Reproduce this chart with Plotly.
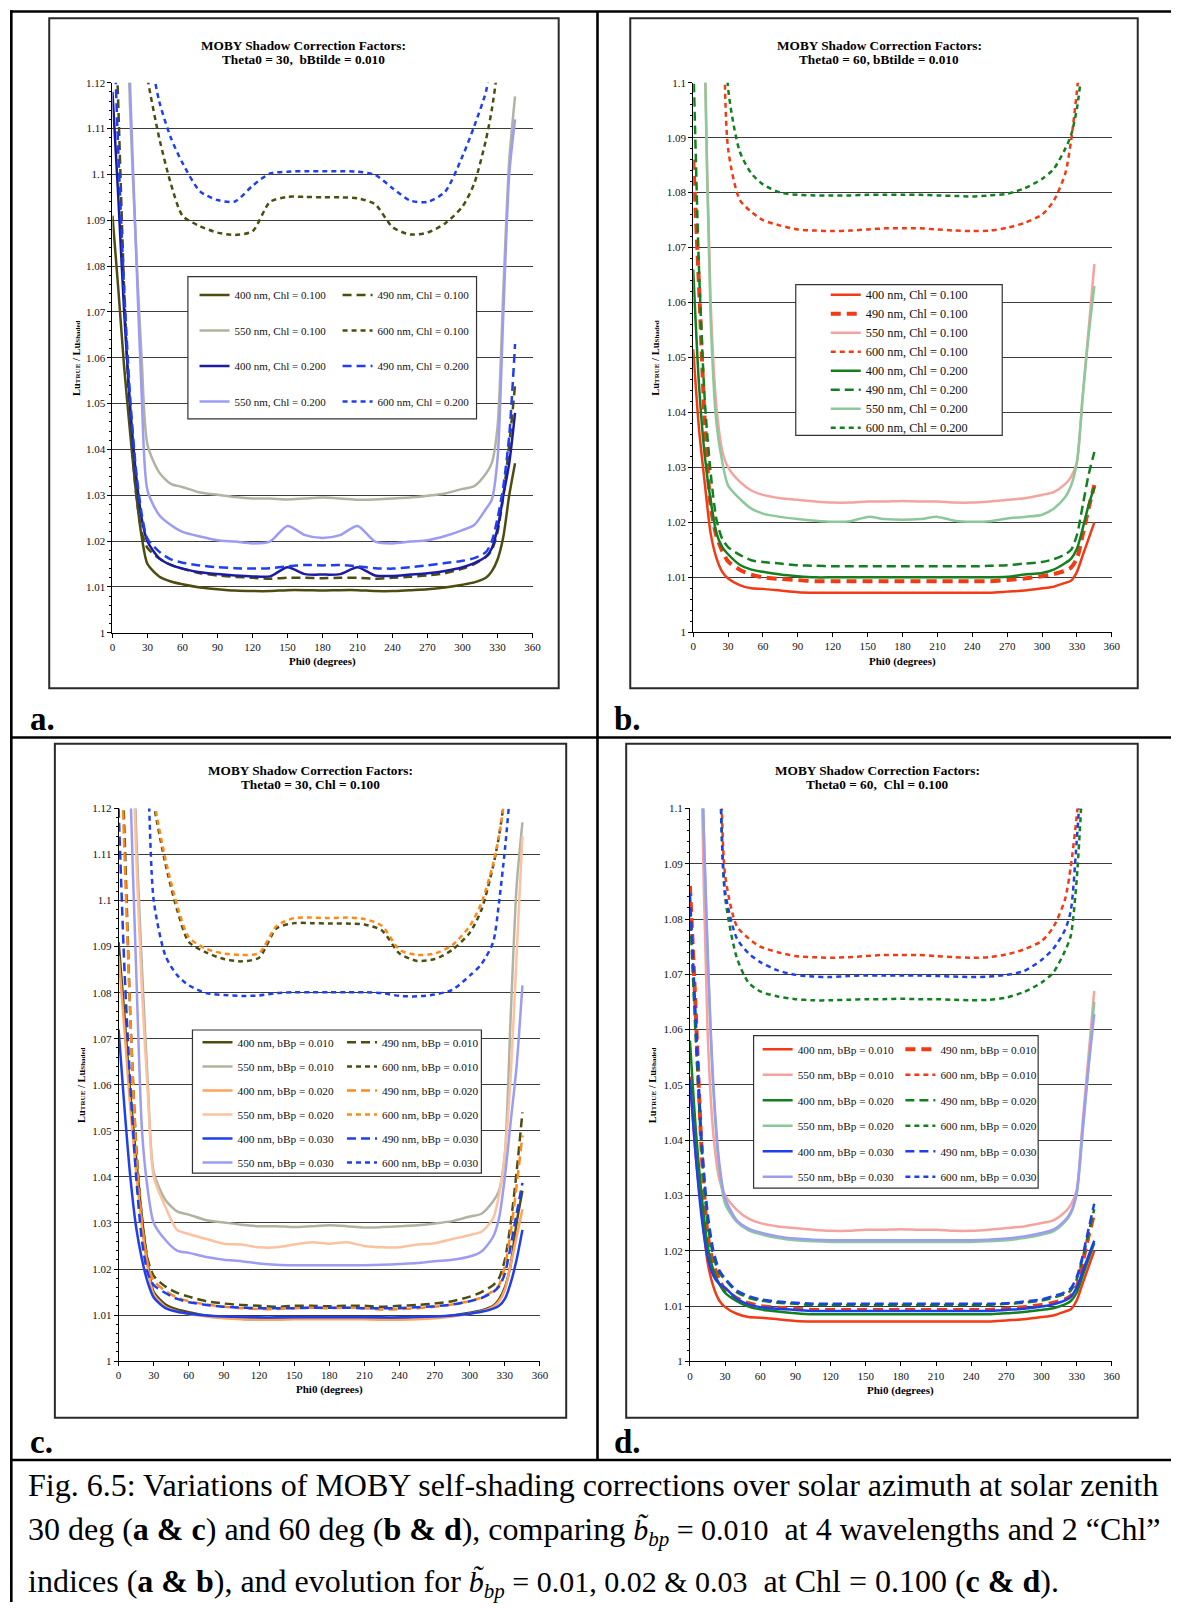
import plotly.graph_objects as go

SERIF = "Liberation Serif"
W, H = 1180, 1608

# ---------------- data ----------------
PHI = [0, 5, 10, 15, 20, 25, 30, 40, 50, 60, 75, 90, 105, 120, 135, 150, 165,
       180, 195, 210, 225, 240, 255, 270, 285, 300, 310, 320, 325, 330, 335, 340, 345]

X_TICKS = [0, 30, 60, 90, 120, 150, 180, 210, 240, 270, 300, 330, 360]
X_TICK_LABELS = ["0", "30", "60", "90", "120", "150", "180", "210", "240", "270", "300", "330", "360"]
Y_TICKS_12 = [1.00, 1.01, 1.02, 1.03, 1.04, 1.05, 1.06, 1.07, 1.08, 1.09, 1.10, 1.11, 1.12]
Y_LABELS_12 = ["1", "1.01", "1.02", "1.03", "1.04", "1.05", "1.06", "1.07", "1.08", "1.09", "1.1", "1.11", "1.12"]
Y_TICKS_10 = [1.00, 1.01, 1.02, 1.03, 1.04, 1.05, 1.06, 1.07, 1.08, 1.09, 1.10]
Y_LABELS_10 = ["1", "1.01", "1.02", "1.03", "1.04", "1.05", "1.06", "1.07", "1.08", "1.09", "1.1"]

# Theta0 = 30, Chl = 0.100, bBp = 0.010  (panels a and c)
T30_400_C1 = [1.091, 1.075, 1.058, 1.044, 1.031, 1.021, 1.015, 1.0123, 1.0112, 1.0106, 1.0099, 1.0095, 1.0092,
              1.0091, 1.0091, 1.0093, 1.0093, 1.0092, 1.0093, 1.0093, 1.0091, 1.0091, 1.0093, 1.0095, 1.0099,
              1.0105, 1.011, 1.012, 1.0134, 1.016, 1.021, 1.03, 1.037]
T30_490_C1 = [1.15, 1.115, 1.075, 1.047, 1.031, 1.022, 1.0185, 1.0162, 1.0148, 1.014, 1.013, 1.0125, 1.0122,
              1.012, 1.0118, 1.012, 1.012, 1.0119, 1.012, 1.012, 1.0118, 1.012, 1.0122, 1.0125, 1.013,
              1.014, 1.015, 1.0165, 1.018, 1.022, 1.03, 1.041, 1.054]
T30_550_C1 = [1.28, 1.22, 1.16, 1.115, 1.085, 1.06, 1.041, 1.035, 1.0325, 1.0318, 1.0306, 1.0301, 1.0296,
              1.0293, 1.0293, 1.0291, 1.0293, 1.0295, 1.0293, 1.029, 1.0291, 1.0293, 1.0295, 1.0299, 1.0304,
              1.0314, 1.032, 1.0347, 1.037, 1.045, 1.075, 1.103, 1.117]
T30_600_C1 = [1.25, 1.21, 1.18, 1.16, 1.145, 1.13, 1.121, 1.108, 1.098, 1.091, 1.0887, 1.0873, 1.0868,
              1.0876, 1.094, 1.0951, 1.0951, 1.095, 1.095, 1.0948, 1.0935, 1.0885, 1.0869, 1.0873, 1.0893,
              1.093, 1.098, 1.1075, 1.114, 1.123, 1.135, 1.15, 1.17]
# Theta0 = 30, Chl = 0.200
T30_400_C2 = [1.118, 1.095, 1.07, 1.05, 1.035, 1.025, 1.0199, 1.0163, 1.0148, 1.014, 1.0132, 1.0128, 1.0125,
              1.0123, 1.0123, 1.0143, 1.0128, 1.0127, 1.0128, 1.0143, 1.0125, 1.0124, 1.0127, 1.013, 1.0135,
              1.0143, 1.0152, 1.0166, 1.0184, 1.0228, 1.03, 1.037, 1.048]
T30_490_C2 = [1.14, 1.105, 1.075, 1.052, 1.036, 1.026, 1.0205, 1.0177, 1.016, 1.0153, 1.0147, 1.0143, 1.0141,
              1.014, 1.0141, 1.0145, 1.0148, 1.0147, 1.0148, 1.0145, 1.0141, 1.014, 1.0143, 1.0147, 1.0152,
              1.0157, 1.0163, 1.0176, 1.0199, 1.025, 1.032, 1.043, 1.063]
T30_550_C2 = [1.30, 1.24, 1.17, 1.12, 1.085, 1.052, 1.031, 1.0257, 1.0235, 1.022, 1.021, 1.0202, 1.0199,
              1.0195, 1.0199, 1.0233, 1.0213, 1.0207, 1.0213, 1.0233, 1.0199, 1.0195, 1.0199, 1.0202, 1.0211,
              1.0224, 1.0235, 1.027, 1.029, 1.038, 1.07, 1.10, 1.112]
T30_600_C2 = [1.3, 1.25, 1.21, 1.18, 1.16, 1.145, 1.13, 1.116, 1.108, 1.1025, 1.0963, 1.0944, 1.0941,
              1.0975, 1.1002, 1.1006, 1.1007, 1.1007, 1.1007, 1.1006, 1.0999, 1.097, 1.0943, 1.094, 1.0962,
              1.104, 1.1105, 1.118, 1.125, 1.133, 1.145, 1.16, 1.18]
# Theta0 = 30, Chl = 0.100, bBp = 0.020 / 0.030
T30_400_B2 = [1.088, 1.072, 1.055, 1.041, 1.029, 1.02, 1.0145, 1.0118, 1.0108, 1.0102, 1.0097, 1.0093, 1.0091,
              1.009, 1.009, 1.0091, 1.0091, 1.0091, 1.0091, 1.0091, 1.009, 1.009, 1.0091, 1.0093, 1.0097,
              1.0103, 1.0108, 1.0118, 1.013, 1.0155, 1.021, 1.027, 1.033]
T30_490_B2 = [1.15, 1.11, 1.075, 1.046, 1.03, 1.021, 1.0175, 1.0152, 1.0138, 1.013, 1.0123, 1.0118, 1.0115,
              1.0113, 1.0113, 1.0115, 1.0116, 1.0115, 1.0116, 1.0115, 1.0112, 1.0113, 1.0115, 1.0118, 1.0123,
              1.013, 1.0138, 1.0152, 1.0165, 1.0205, 1.028, 1.038, 1.049]
T30_550_B2 = [1.3, 1.22, 1.15, 1.11, 1.08, 1.058, 1.04, 1.0335, 1.0285, 1.0276, 1.0265, 1.0255, 1.0253,
              1.0247, 1.0247, 1.0253, 1.0258, 1.0255, 1.0258, 1.025, 1.0247, 1.0247, 1.0253, 1.0256, 1.0265,
              1.0274, 1.0281, 1.031, 1.036, 1.045, 1.062, 1.088, 1.114]
T30_600_B2 = [1.25, 1.21, 1.18, 1.16, 1.145, 1.13, 1.122, 1.109, 1.099, 1.092, 1.0895, 1.0885, 1.0882,
              1.0886, 1.0945, 1.0962, 1.0963, 1.0962, 1.0963, 1.096, 1.0945, 1.0893, 1.0882, 1.0885, 1.0903,
              1.0945, 1.0995, 1.108, 1.114, 1.123, 1.135, 1.15, 1.17]
T30_400_B3 = [1.072, 1.055, 1.04, 1.029, 1.022, 1.017, 1.0138, 1.0115, 1.0107, 1.0103, 1.0099, 1.0097, 1.0096,
              1.0095, 1.0095, 1.0095, 1.0095, 1.0095, 1.0095, 1.0095, 1.0095, 1.0095, 1.0096, 1.0097, 1.0099,
              1.0103, 1.0107, 1.0114, 1.012, 1.0135, 1.017, 1.022, 1.0285]
T30_490_B3 = [1.12, 1.085, 1.06, 1.04, 1.026, 1.019, 1.0165, 1.0148, 1.0135, 1.0128, 1.0122, 1.0118, 1.0116,
              1.0115, 1.0115, 1.0115, 1.0116, 1.0116, 1.0116, 1.0115, 1.0115, 1.0115, 1.0117, 1.0119, 1.0123,
              1.013, 1.0137, 1.015, 1.0162, 1.019, 1.025, 1.032, 1.0387]
T30_550_B3 = [1.3, 1.2, 1.125, 1.085, 1.05, 1.037, 1.03, 1.0263, 1.024, 1.0235, 1.0226, 1.022, 1.0217,
              1.0212, 1.0209, 1.0208, 1.0208, 1.0208, 1.0208, 1.0208, 1.0209, 1.0211, 1.0213, 1.0217, 1.022,
              1.0227, 1.0238, 1.027, 1.031, 1.04, 1.052, 1.064, 1.0816]
T30_600_B3 = [1.3, 1.25, 1.2, 1.17, 1.15, 1.128, 1.1, 1.088, 1.0838, 1.0816, 1.0799, 1.0795, 1.0793,
              1.0794, 1.0799, 1.0801, 1.0801, 1.0801, 1.0801, 1.0801, 1.0799, 1.0793, 1.0792, 1.0796, 1.0806,
              1.0837, 1.0862, 1.091, 1.0996, 1.111, 1.125, 1.14, 1.16]

# Theta0 = 60, Chl = 0.100, bBp = 0.010 (panels b and d)
T60_400_C1 = [1.0515, 1.037, 1.027, 1.018, 1.0135, 1.011, 1.0098, 1.0086, 1.008, 1.0079, 1.0076, 1.0073, 1.0072,
              1.0072, 1.0072, 1.0072, 1.0072, 1.0072, 1.0072, 1.0072, 1.0072, 1.0072, 1.0072, 1.0074, 1.0076,
              1.008, 1.0083, 1.009, 1.0094, 1.011, 1.014, 1.017, 1.02]
T60_490_C1 = [1.086, 1.063, 1.038, 1.023, 1.0175, 1.0148, 1.0129, 1.0114, 1.0105, 1.01, 1.0097, 1.0095, 1.0093,
              1.0093, 1.0093, 1.0093, 1.0093, 1.0093, 1.0093, 1.0093, 1.0093, 1.0093, 1.0093, 1.0095, 1.0098,
              1.0102, 1.0106, 1.0112, 1.0118, 1.0134, 1.0178, 1.0225, 1.0268]
T60_550_C1 = [1.25, 1.18, 1.105, 1.06, 1.041, 1.033, 1.03, 1.0274, 1.0258, 1.025, 1.0244, 1.0241, 1.0238,
              1.0236, 1.0236, 1.0238, 1.0238, 1.0239, 1.0238, 1.0238, 1.0236, 1.0236, 1.0238, 1.0241, 1.0244,
              1.025, 1.0255, 1.027, 1.0283, 1.031, 1.043, 1.055, 1.067]
T60_600_C1 = [1.26, 1.23, 1.2, 1.18, 1.165, 1.127, 1.088, 1.0787, 1.0765, 1.075, 1.074, 1.0733, 1.0731,
              1.073, 1.0731, 1.0733, 1.0735, 1.0735, 1.0735, 1.0733, 1.0731, 1.073, 1.0731, 1.0736, 1.0745,
              1.076, 1.0785, 1.0835, 1.0895, 1.0985, 1.11, 1.13, 1.15]
# Theta0 = 60, Chl = 0.200
T60_400_C2 = [1.066, 1.045, 1.032, 1.024, 1.018, 1.0155, 1.0142, 1.0123, 1.0114, 1.011, 1.0105, 1.0102, 1.01,
              1.01, 1.01, 1.01, 1.01, 1.01, 1.01, 1.01, 1.01, 1.01, 1.01, 1.0101, 1.0105,
              1.0108, 1.0114, 1.0126, 1.0134, 1.0152, 1.0189, 1.0231, 1.0264]
T60_490_C2 = [1.105, 1.066, 1.042, 1.029, 1.0205, 1.017, 1.0155, 1.0141, 1.0131, 1.0128, 1.0125, 1.0122, 1.0121,
              1.012, 1.012, 1.012, 1.012, 1.012, 1.012, 1.012, 1.012, 1.012, 1.0121, 1.0122, 1.0125,
              1.0128, 1.0133, 1.0142, 1.015, 1.0177, 1.0231, 1.0286, 1.0328]
T60_550_C2 = [1.25, 1.18, 1.105, 1.057, 1.038, 1.031, 1.0267, 1.0243, 1.0225, 1.0216, 1.021, 1.0206, 1.0203,
              1.0201, 1.0202, 1.021, 1.0206, 1.0205, 1.0206, 1.021, 1.0203, 1.0201, 1.0202, 1.0207, 1.021,
              1.0214, 1.0225, 1.0246, 1.0267, 1.031, 1.043, 1.054, 1.063]
T60_600_C2 = [1.3, 1.26, 1.22, 1.19, 1.165, 1.132, 1.099, 1.0875, 1.0835, 1.0815, 1.08, 1.0796, 1.0795,
              1.0795, 1.0795, 1.0796, 1.0796, 1.0796, 1.0796, 1.0795, 1.0794, 1.0793, 1.0795, 1.0798, 1.0808,
              1.0825, 1.0843, 1.088, 1.0905, 1.0953, 1.104, 1.12, 1.14]
# Theta0 = 60, Chl = 0.100, bBp = 0.020 / 0.030
T60_400_B2 = [1.058, 1.042, 1.03, 1.021, 1.0165, 1.014, 1.0124, 1.0109, 1.0099, 1.0094, 1.009, 1.0087, 1.0085,
              1.0085, 1.0085, 1.0085, 1.0085, 1.0085, 1.0085, 1.0085, 1.0085, 1.0085, 1.0085, 1.0087, 1.0089,
              1.0093, 1.0096, 1.0103, 1.0109, 1.0124, 1.0154, 1.0184, 1.0214]
T60_490_B2 = [1.082, 1.058, 1.038, 1.025, 1.019, 1.016, 1.0148, 1.0125, 1.0115, 1.011, 1.0106, 1.0104, 1.0102,
              1.0102, 1.0102, 1.0102, 1.0102, 1.0102, 1.0102, 1.0102, 1.0102, 1.0102, 1.0102, 1.0104, 1.0106,
              1.011, 1.0115, 1.0122, 1.0128, 1.0148, 1.0185, 1.023, 1.0275]
T60_550_B2 = [1.25, 1.17, 1.11, 1.074, 1.049, 1.035, 1.0285, 1.0252, 1.0237, 1.023, 1.0223, 1.0219, 1.0217,
              1.0216, 1.0216, 1.0216, 1.0216, 1.0216, 1.0216, 1.0216, 1.0216, 1.0216, 1.0217, 1.0219, 1.0223,
              1.0229, 1.0235, 1.0252, 1.0267, 1.0302, 1.041, 1.053, 1.065]
T60_600_B2 = [1.3, 1.26, 1.22, 1.18, 1.15, 1.112, 1.084, 1.073, 1.0685, 1.0669, 1.066, 1.0655, 1.0653,
              1.0653, 1.0654, 1.0655, 1.0655, 1.0656, 1.0655, 1.0655, 1.0654, 1.0653, 1.0654, 1.0658, 1.0668,
              1.0685, 1.0703, 1.0742, 1.077, 1.087, 1.105, 1.13, 1.15]
T60_400_B3 = [1.051, 1.037, 1.026, 1.019, 1.0155, 1.014, 1.0133, 1.0113, 1.0103, 1.0098, 1.0095, 1.0093, 1.0091,
              1.0091, 1.0091, 1.0091, 1.0091, 1.0091, 1.0091, 1.0091, 1.0091, 1.0091, 1.0091, 1.0093, 1.0095,
              1.0099, 1.0103, 1.011, 1.0117, 1.0133, 1.0162, 1.019, 1.0218]
T60_490_B3 = [1.0847, 1.062, 1.04, 1.027, 1.02, 1.0165, 1.015, 1.0128, 1.0118, 1.0112, 1.0108, 1.0106, 1.0104,
              1.0104, 1.0104, 1.0104, 1.0104, 1.0104, 1.0104, 1.0104, 1.0104, 1.0104, 1.0104, 1.0105, 1.0108,
              1.0112, 1.0118, 1.0125, 1.0132, 1.0152, 1.019, 1.0238, 1.0285]
T60_550_B3 = [1.25, 1.17, 1.11, 1.075, 1.05, 1.036, 1.0295, 1.0255, 1.024, 1.0233, 1.0226, 1.0222, 1.022,
              1.0219, 1.0219, 1.0219, 1.0219, 1.0219, 1.0219, 1.0219, 1.0219, 1.0219, 1.022, 1.0222, 1.0226,
              1.0232, 1.0238, 1.0255, 1.027, 1.0305, 1.042, 1.053, 1.0628]
T60_600_B3 = [1.3, 1.26, 1.22, 1.18, 1.15, 1.113, 1.085, 1.0765, 1.0738, 1.0722, 1.0707, 1.0699, 1.0696,
              1.0695, 1.0697, 1.0698, 1.0698, 1.0698, 1.0698, 1.0697, 1.0696, 1.0695, 1.0696, 1.0699, 1.0706,
              1.0726, 1.0746, 1.078, 1.0815, 1.094, 1.11, 1.13, 1.15]

# ---------------- styles ----------------
OLIVE = "#4D4D10"
GRAY = "#B2B2A2"
NAVY = "#1C1CA3"
BLUE = "#1F3FEF"
LAV = "#9C9CF2"
RED = "#F23A14"
PINK = "#F5A3A0"
GREEN = "#12801F"
LGREEN = "#8CC89A"
ORANGE = "#FF8A1A"
ORANGE_L = "#FFA45C"
PEACH = "#FBC2A0"
LONG = "9px,5px"
SHORT = "5px,4px"
LW = 2.5


def px_x(v):
    return v / W


def px_y(v):
    return 1 - v / H


fig = go.Figure()

# panel geometry (pixels)
PANELS = {
    "a": dict(ax="", x0=110.6, x1=535.0, top=77.3, bot=631.5, yt=Y_TICKS_12, yl=Y_LABELS_12, ymax=1.12),
    "b": dict(ax="2", x0=697.3, x1=1120.2, top=77.3, bot=631.0, yt=Y_TICKS_10, yl=Y_LABELS_10, ymax=1.10),
    "c": dict(ax="3", x0=116.8, x1=542.5, top=808.5, bot=1365.3, yt=Y_TICKS_12, yl=Y_LABELS_12, ymax=1.12),
    "d": dict(ax="4", x0=694.0, x1=1120.2, top=808.5, bot=1365.5, yt=Y_TICKS_10, yl=Y_LABELS_10, ymax=1.10),
}

SERIES = [
    # panel, legend, name, y, color, width, dash
    ("a", "legend", "400 nm, Chl = 0.100", T30_400_C1, OLIVE, LW, "solid"),
    ("a", "legend2", "490 nm, Chl = 0.100", T30_490_C1, OLIVE, LW, LONG),
    ("a", "legend", "550 nm, Chl = 0.100", T30_550_C1, GRAY, LW, "solid"),
    ("a", "legend2", "600 nm, Chl = 0.100", T30_600_C1, OLIVE, LW, SHORT),
    ("a", "legend", "400 nm, Chl = 0.200", T30_400_C2, NAVY, LW, "solid"),
    ("a", "legend2", "490 nm, Chl = 0.200", T30_490_C2, BLUE, LW, LONG),
    ("a", "legend", "550 nm, Chl = 0.200", T30_550_C2, LAV, LW, "solid"),
    ("a", "legend2", "600 nm, Chl = 0.200", T30_600_C2, BLUE, LW, SHORT),

    ("b", "legend3", "400 nm, Chl = 0.100", T60_400_C1, RED, LW, "solid"),
    ("b", "legend3", "490 nm, Chl = 0.100", T60_490_C1, RED, 4, "10px,6px"),
    ("b", "legend3", "550 nm, Chl = 0.100", T60_550_C1, PINK, LW, "solid"),
    ("b", "legend3", "600 nm, Chl = 0.100", T60_600_C1, RED, LW, SHORT),
    ("b", "legend3", "400 nm, Chl = 0.200", T60_400_C2, GREEN, LW, "solid"),
    ("b", "legend3", "490 nm, Chl = 0.200", T60_490_C2, GREEN, LW, LONG),
    ("b", "legend3", "550 nm, Chl = 0.200", T60_550_C2, LGREEN, LW, "solid"),
    ("b", "legend3", "600 nm, Chl = 0.200", T60_600_C2, GREEN, LW, SHORT),

    ("c", "legend4", "400 nm, bBp = 0.010", T30_400_C1, OLIVE, LW, "solid"),
    ("c", "legend5", "490 nm, bBp = 0.010", T30_490_C1, OLIVE, LW, LONG),
    ("c", "legend4", "550 nm, bBp = 0.010", T30_550_C1, GRAY, LW, "solid"),
    ("c", "legend5", "600 nm, bBp = 0.010", T30_600_C1, OLIVE, LW, SHORT),
    ("c", "legend4", "400 nm, bBp = 0.020", T30_400_B2, ORANGE_L, LW, "solid"),
    ("c", "legend5", "490 nm, bBp = 0.020", T30_490_B2, ORANGE, LW, LONG),
    ("c", "legend4", "550 nm, bBp = 0.020", T30_550_B2, PEACH, LW, "solid"),
    ("c", "legend5", "600 nm, bBp = 0.020", T30_600_B2, ORANGE, LW, SHORT),
    ("c", "legend4", "400 nm, bBp = 0.030", T30_400_B3, BLUE, LW, "solid"),
    ("c", "legend5", "490 nm, bBp = 0.030", T30_490_B3, BLUE, LW, LONG),
    ("c", "legend4", "550 nm, bBp = 0.030", T30_550_B3, LAV, LW, "solid"),
    ("c", "legend5", "600 nm, bBp = 0.030", T30_600_B3, BLUE, LW, SHORT),

    ("d", "legend6", "400 nm, bBp = 0.010", T60_400_C1, RED, LW, "solid"),
    ("d", "legend7", "490 nm, bBp = 0.010", T60_490_C1, RED, 4, "10px,6px"),
    ("d", "legend6", "550 nm, bBp = 0.010", T60_550_C1, PINK, LW, "solid"),
    ("d", "legend7", "600 nm, bBp = 0.010", T60_600_C1, RED, LW, SHORT),
    ("d", "legend6", "400 nm, bBp = 0.020", T60_400_B2, GREEN, LW, "solid"),
    ("d", "legend7", "490 nm, bBp = 0.020", T60_490_B2, GREEN, LW, LONG),
    ("d", "legend6", "550 nm, bBp = 0.020", T60_550_B2, LGREEN, LW, "solid"),
    ("d", "legend7", "600 nm, bBp = 0.020", T60_600_B2, GREEN, LW, SHORT),
    ("d", "legend6", "400 nm, bBp = 0.030", T60_400_B3, BLUE, LW, "solid"),
    ("d", "legend7", "490 nm, bBp = 0.030", T60_490_B3, BLUE, LW, LONG),
    ("d", "legend6", "550 nm, bBp = 0.030", T60_550_B3, LAV, LW, "solid"),
    ("d", "legend7", "600 nm, bBp = 0.030", T60_600_B3, BLUE, LW, SHORT),
]

for i, (pan, leg, name, ys, col, wid, dash) in enumerate(SERIES):
    a = PANELS[pan]["ax"]
    fig.add_trace(go.Scatter(
        x=PHI, y=ys, mode="lines", name=name,
        line=dict(color=col, width=wid, dash=dash, shape="spline", smoothing=0.7),
        xaxis="x" + a, yaxis="y" + a, legend=leg, legendgroup="g%d" % i,
        hoverinfo="skip",
    ))

# axes
tickfont = dict(family=SERIF, size=11, color="#111")
layout_axes = {}
for key, p in PANELS.items():
    a = p["ax"]
    layout_axes["xaxis" + a] = dict(
        domain=[px_x(p["x0"]), px_x(p["x1"])], range=[0, 360], anchor="y" + a,
        tickvals=X_TICKS, ticktext=X_TICK_LABELS, ticks="outside", ticklen=4, tickcolor="black",
        showline=True, linecolor="black", linewidth=1, showgrid=False, zeroline=False,
        tickfont=tickfont, fixedrange=True,
    )
    layout_axes["yaxis" + a] = dict(
        domain=[px_y(p["bot"]), px_y(p["top"])], range=[1.0, p["ymax"]], anchor="x" + a,
        tickvals=p["yt"], ticktext=p["yl"], ticks="outside", ticklen=4, tickcolor="black",
        showline=True, linecolor="black", linewidth=1, showgrid=True, gridcolor="#3c3c3c",
        gridwidth=1, zeroline=False, tickfont=tickfont, fixedrange=True,
        minor=dict(ticks="outside", ticklen=2, dtick=0.002, tickcolor="black", showgrid=False),
    )


# legends (one per column); item text starts 40 px right of the legend origin,
# the first item centre lies 14.5 px below it (19 px items)
def legend_at(text_x, first_row_y, size, pitch):
    return dict(x=px_x(text_x - 40), y=px_y(first_row_y - 14.5), xanchor="left", yanchor="top",
                bgcolor="rgba(0,0,0,0)", borderwidth=0, traceorder="grouped",
                tracegroupgap=max(pitch - 19, 0), font=dict(family=SERIF, size=size, color="#111"),
                itemclick=False, itemdoubleclick=False)


legends = {
    "legend": legend_at(233.5, 291.0, 11, 35.5),
    "legend2": legend_at(378.0, 291.0, 11, 35.5),
    "legend3": legend_at(871.2, 290.7, 12.3, 19.0),
    "legend4": legend_at(236.5, 1044.0, 11.3, 24.06),
    "legend5": legend_at(382.5, 1044.0, 11.3, 24.06),
    "legend6": legend_at(802.4, 1051.0, 11.3, 25.5),
    "legend7": legend_at(946.6, 1051.0, 11.3, 25.5),
}

# shapes
shapes = []


def hline(y, x0, x1, w):
    shapes.append(dict(type="line", xref="paper", yref="paper", x0=px_x(x0), x1=px_x(x1),
                       y0=px_y(y), y1=px_y(y), line=dict(color="black", width=w), layer="above"))


def vline(x, y0, y1, w):
    shapes.append(dict(type="line", xref="paper", yref="paper", x0=px_x(x), x1=px_x(x),
                       y0=px_y(y0), y1=px_y(y1), line=dict(color="black", width=w), layer="above"))


def rect(x0, y0, x1, y1, w, color, fill=None, layer="below"):
    d = dict(type="rect", xref="paper", yref="paper", x0=px_x(x0), x1=px_x(x1),
             y0=px_y(y1), y1=px_y(y0), line=dict(color=color, width=w), layer=layer)
    if fill:
        d["fillcolor"] = fill
    shapes.append(d)


# table rules
hline(5.5, 7.2, W, 2.6)
vline(8.4, 4.2, H, 2.6)
vline(600.6, 5.5, 1465, 2.6)
hline(737.0, 8.4, W, 2.6)
hline(1465.0, 8.4, W, 2.6)

# chart boxes
rect(46.7, 12.3, 561.4, 687.5, 2, "#2a2a2a")
rect(633.7, 12.3, 1146.4, 687.3, 2, "#2a2a2a")
rect(52.4, 743.3, 569.0, 1422.3, 2, "#2a2a2a")
rect(629.6, 743.3, 1146.4, 1422.3, 2, "#2a2a2a")

# legend boxes
rect(186.8, 272.7, 478.4, 416.0, 1.2, "#333", fill="white", layer="above")
rect(800.9, 280.7, 1009.5, 432.7, 1.2, "#333", fill="white", layer="above")
rect(191.4, 1031.7, 483.3, 1176.0, 1.2, "#333", fill="white", layer="above")
rect(758.3, 1037.3, 1045.8, 1191.0, 1.2, "#333", fill="white", layer="above")

# annotations
ann = []


def text(xpx, ypx, s, size, xanchor="center", yanchor="middle", angle=0, color="black"):
    ann.append(dict(xref="paper", yref="paper", x=px_x(xpx), y=px_y(ypx), text=s, showarrow=False,
                    xanchor=xanchor, yanchor=yanchor, textangle=angle,
                    font=dict(family=SERIF, size=size, color=color)))


TITLES = {
    "a": (304.0, 39.5, "Theta0 = 30,\u00a0 bBtilde = 0.010"),
    "b": (885.0, 39.5, "Theta0 = 60, bBtilde = 0.010"),
    "c": (310.6, 770.5, "Theta0 = 30, Chl = 0.100"),
    "d": (883.0, 770.5, "Theta0 = 60,\u00a0 Chl = 0.100"),
}
for key, (tx, ty, sub) in TITLES.items():
    text(tx, ty, "<b>MOBY Shadow Correction Factors:</b>", 13.3)
    text(tx, ty + 14.3, "<b>" + sub + "</b>", 13.3)

YTITLE = ("<b>Lu<span style='font-size:7px'>TRUE</span> / Lu"
          "<span style='font-size:7px'>Shaded</span></b>")
for key, xt in (("a", 75.0), ("b", 659.0), ("c", 80.0), ("d", 657.0)):
    p = PANELS[key]
    text(xt, (p["top"] + p["bot"]) / 2, YTITLE, 10.5, angle=-90)
    text((p["x0"] + p["x1"]) / 2, p["bot"] + 29, "<b>Phi0 (degrees)</b>", 11)

# panel letters
text(25, 718, "<b>a.</b>", 33, xanchor="left")
text(615, 718, "<b>b.</b>", 33, xanchor="left")
text(25, 1447, "<b>c.</b>", 33, xanchor="left")
text(615, 1447, "<b>d.</b>", 33, xanchor="left")

# caption
BT = "<i>b\u0303</i><sub><i>bp</i></sub>"
CAPTION = [
    "Fig. 6.5: Variations of MOBY self-shading corrections over solar azimuth at solar zenith",
    "30 deg (<b>a &amp; c</b>) and 60 deg (<b>b &amp; d</b>), comparing "
    "<span style='font-size:30px'>" + BT + " = 0.010</span>\u00a0 at 4 wavelengths and 2 \u201cChl\u201d",
    "indices (<b>a &amp; b</b>), and evolution for "
    "<span style='font-size:30px'>" + BT + " = 0.01, 0.02 &amp; 0.03</span>\u00a0 at Chl = 0.100 (<b>c &amp; d</b>).",
]
for ytop, line in zip((1470.0, 1514.5, 1566.5), CAPTION):
    text(23.5, ytop, line, 32, xanchor="left", yanchor="top")

fig.update_layout(
    width=W, height=H, autosize=False,
    margin=dict(l=0, r=0, t=0, b=0),
    paper_bgcolor="white", plot_bgcolor="rgba(0,0,0,0)",
    font=dict(family=SERIF, color="black"),
    showlegend=True,
    shapes=shapes, annotations=ann,
    **layout_axes, **legends,
)

fig.write_html("out.html")
